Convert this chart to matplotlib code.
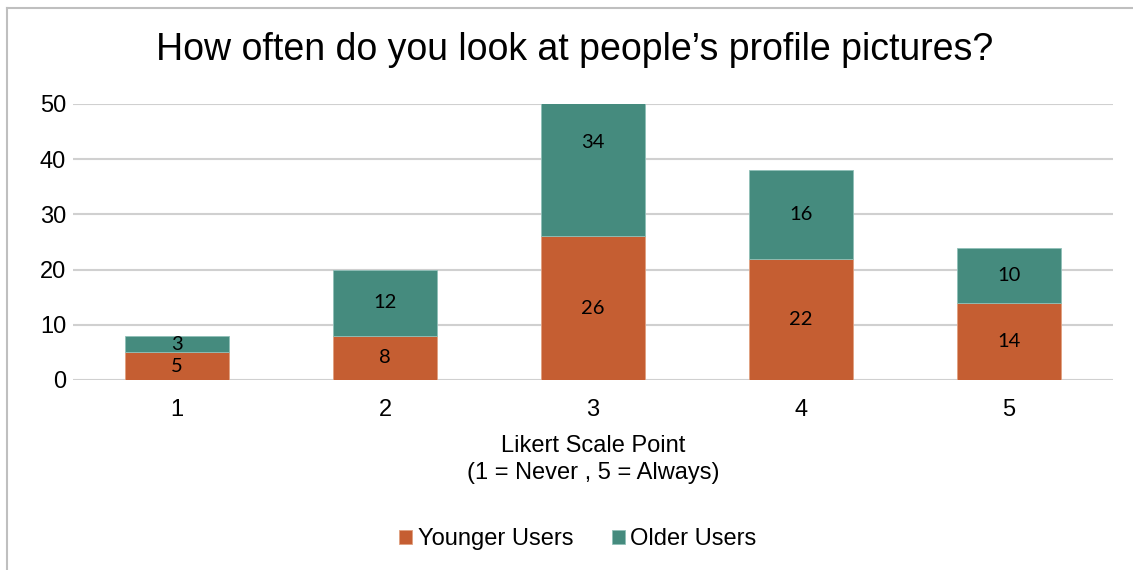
import numpy as np
import matplotlib.pyplot as plt
from matplotlib.lines import Line2D

# datos
categorias = ["1", "2", "3", "4", "5"]
younger = [5, 8, 26, 22, 14]
older = [3, 12, 34, 16, 10]

naranja = "#C55E32"
verde = "#458B7E"

plt.rcParams["font.family"] = "Liberation Sans"

fig = plt.figure(figsize=(11.33, 5.70), dpi=100)
ax = fig.add_axes([73/1133, 190/570, 1040/1133, 276/570])

x = np.arange(len(categorias))
ax.bar(x, younger, 0.5, color=naranja, edgecolor="#E0A080", linewidth=0.6,
       label="Younger Users", zorder=3)
ax.bar(x, older, 0.5, bottom=younger, color=verde, edgecolor="#90C0B8",
       linewidth=0.6, label="Older Users", zorder=3)

# etiquetas en el centro real de cada segmento
for i in range(len(x)):
    ax.text(x[i], younger[i] / 2, str(younger[i]), ha="center", va="center",
            fontsize=14.5, family="Lato", zorder=4)
    ax.text(x[i], younger[i] + older[i] / 2, str(older[i]), ha="center", va="center",
            fontsize=14.5, family="Lato", zorder=4)

ax.set_xlim(-0.5, 4.5)
ax.set_ylim(0, 50)
ax.set_yticks([0, 10, 20, 30, 40, 50])
ax.set_xticks(x)
ax.set_xticklabels(categorias)
ax.yaxis.grid(True, color="#D0D0D0", linewidth=1.5, zorder=0)
ax.tick_params(length=0, labelsize=17, pad=14)
ax.tick_params(axis="y", pad=5)
for s in ax.spines.values():
    s.set_visible(False)

ax.set_xlabel("Likert Scale Point\n(1 = Never , 5 = Always)", fontsize=17,
              labelpad=10, linespacing=1.3)
fig.text(575/1133, 1 - 50/570, "How often do you look at people\u2019s profile pictures?",
         ha="center", va="center", fontsize=27)

fig.legend(loc="center", bbox_to_anchor=(578/1133, 1 - 539/570), ncol=2, frameon=False,
           fontsize=17, handlelength=0.55, handleheight=0.55, handletextpad=0.25,
           columnspacing=1.6)

# borde del grafico
fig.add_artist(Line2D([7/1133, 7/1133], [0, 1 - 8/570], color="#BFBFBF", linewidth=1.5))
fig.add_artist(Line2D([7/1133, 1], [1 - 8/570, 1 - 8/570], color="#BFBFBF", linewidth=1.5))

plt.savefig("out.png")
plt.close()
